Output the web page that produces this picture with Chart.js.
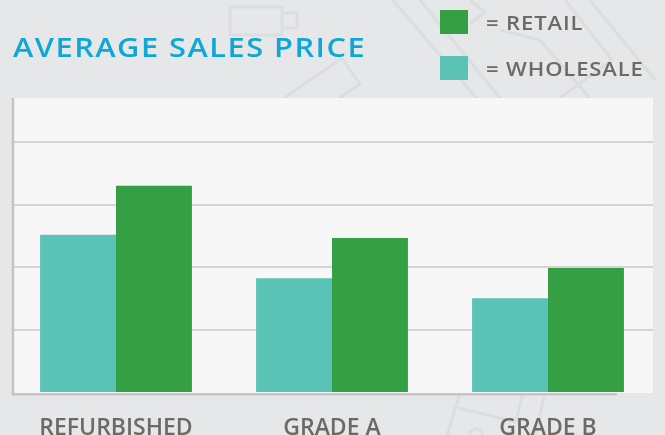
<!DOCTYPE html>
<html><head><meta charset="utf-8">
<script src="https://cdn.jsdelivr.net/npm/chart.js@4/dist/chart.umd.min.js"></script>
<style>html,body{margin:0;padding:0;background:#e6e7e8;overflow:hidden}canvas{display:block}</style>
</head><body>
<canvas id="c" width="665" height="435"></canvas>
<script>
// ---- data ----
const chartTitle = 'AVERAGE SALES PRICE';
const categories = ['REFURBISHED', 'GRADE A', 'GRADE B'];
const seriesNames = ['WHOLESALE', 'RETAIL'];
const wholesale = [252, 183, 151];
const retail = [330, 247, 199];
const yMax = 470;
const yStep = 100;

// ---- styles ----
const FONT = "'Open Sans', sans-serif";
const TEAL = '#5bc3b5';
const GREEN = '#34a043';
const TEXT_GRAY = '#6d6a65';
const PAGE_BG = '#e6e7e8';
const PANEL_LEFT = 13, PANEL_RIGHT = 653;

function drawScaledText(ctx, text, x, y, sx, spacing) {
  ctx.save();
  ctx.translate(x, y);
  ctx.scale(sx, 1);
  ctx.letterSpacing = spacing + 'px';
  ctx.fillText(text, 0, 0);
  ctx.restore();
}

const decor = {
  id: 'decor',
  beforeDraw(chart) {
    const { ctx, chartArea: a, width, height } = chart;
    ctx.save();
    ctx.fillStyle = PAGE_BG;
    ctx.fillRect(0, 0, width, height);
    // faint background line art
    ctx.strokeStyle = '#dcdddf';
    ctx.lineWidth = 3;
    ctx.lineJoin = 'round';
    const polys = [
      [[230, 7], [282, 7], [282, 35], [230, 35], [230, 7]],
      [[282, 13], [297, 13], [297, 28], [282, 28]],
      [[342, 58], [360, 84], [302, 124], [284, 98], [342, 58]],
      [[393, 0], [478, 100]],
      [[420, 0], [500, 98]],
      [[470, 0], [485, 12], [470, 24]],
      [[565, 0], [612, 60], [560, 98]],
      [[590, 0], [655, 80]],
      [[500, 30], [540, 40], [600, 110]],
      [[460, 393], [447, 435]],
      [[523, 393], [516, 422], [458, 408]],
      [[545, 393], [535, 435]]
    ];
    polys.forEach(p => {
      ctx.beginPath();
      p.forEach((pt, i) => i ? ctx.lineTo(pt[0], pt[1]) : ctx.moveTo(pt[0], pt[1]));
      ctx.stroke();
    });
    ctx.beginPath();
    ctx.arc(476, 436, 7, 0, Math.PI * 2);
    ctx.stroke();
    // plot panel
    ctx.fillStyle = '#f7f7f7';
    ctx.fillRect(PANEL_LEFT, a.top, PANEL_RIGHT - PANEL_LEFT, a.bottom - a.top);
    ctx.restore();
  },
  beforeDatasetsDraw(chart) {
    const { ctx, chartArea: a, width } = chart;
    ctx.save();
    // trim grid lines to the panel
    ctx.fillStyle = PAGE_BG;
    ctx.fillRect(0, a.top - 2, PANEL_LEFT - 1.5, a.bottom - a.top + 4);
    ctx.fillRect(PANEL_RIGHT, a.top - 2, width - PANEL_RIGHT, a.bottom - a.top + 4);
    // y axis line
    ctx.strokeStyle = '#c4c4c4';
    ctx.lineWidth = 2.5;
    ctx.beginPath();
    ctx.moveTo(PANEL_LEFT, a.top);
    ctx.lineTo(PANEL_LEFT, a.bottom + 2.5);
    ctx.stroke();
    ctx.restore();
  },
  afterDatasetsDraw(chart) {
    const { ctx, chartArea: a } = chart;
    ctx.save();
    ctx.strokeStyle = '#c6c6c6';
    ctx.lineWidth = 2.5;
    ctx.beginPath();
    ctx.moveTo(PANEL_LEFT - 1.25, a.bottom + 1.25);
    ctx.lineTo(PANEL_RIGHT - 36, a.bottom + 1.25);
    ctx.stroke();
    ctx.restore();
  },
  afterDraw(chart) {
    const { ctx } = chart;
    ctx.save();
    ctx.textBaseline = 'alphabetic';
    ctx.textAlign = 'left';
    // title
    ctx.fillStyle = '#0fa7d8';
    ctx.font = '600 27px ' + FONT;
    drawScaledText(ctx, chartTitle, 13, 57, 1.14, 1.3);
    // legend (retail first, wholesale second)
    const ds = chart.data.datasets.slice().reverse();
    ctx.font = '600 20px ' + FONT;
    ds.forEach((d, i) => {
      const y = 10 + i * 46;
      ctx.fillStyle = d.backgroundColor;
      ctx.fillRect(440, y, 28, 24);
      ctx.fillStyle = TEXT_GRAY;
      drawScaledText(ctx, '= ' + d.label, 486, y + 20, 1.1, 0.8);
    });
    ctx.restore();
  }
};

new Chart(document.getElementById('c'), {
  type: 'bar',
  data: {
    labels: categories,
    datasets: [
      { label: seriesNames[0], data: wholesale, backgroundColor: TEAL, borderWidth: 0 },
      { label: seriesNames[1], data: retail, backgroundColor: GREEN, borderWidth: 0 }
    ]
  },
  options: {
    responsive: false,
    animation: false,
    devicePixelRatio: 1,
    layout: { padding: { top: 98, left: 8, right: 9, bottom: 0 } },
    plugins: { legend: { display: false }, tooltip: { enabled: false }, title: { display: false } },
    datasets: { bar: { categoryPercentage: 0.703, barPercentage: 1 } },
    scales: {
      x: {
        grid: { display: false, drawTicks: false },
        border: { display: false },
        ticks: {
          color: TEXT_GRAY,
          font: { family: FONT, size: 23, weight: '600', lineHeight: 1.2 },
          padding: 22,
          maxRotation: 0,
          autoSkip: false
        },
        afterFit: s => { s.height = 42; }
      },
      y: {
        min: 0,
        max: yMax,
        grid: {
          color: c => (c.tick && (c.tick.value === 0 || c.tick.value === yMax)) ? 'rgba(0,0,0,0)' : '#d4d4d4',
          lineWidth: 2,
          drawTicks: false
        },
        border: { display: false },
        ticks: { display: false, stepSize: yStep },
        afterFit: s => { s.width = 0; }
      }
    }
  },
  plugins: [decor]
});
</script>
</body></html>
